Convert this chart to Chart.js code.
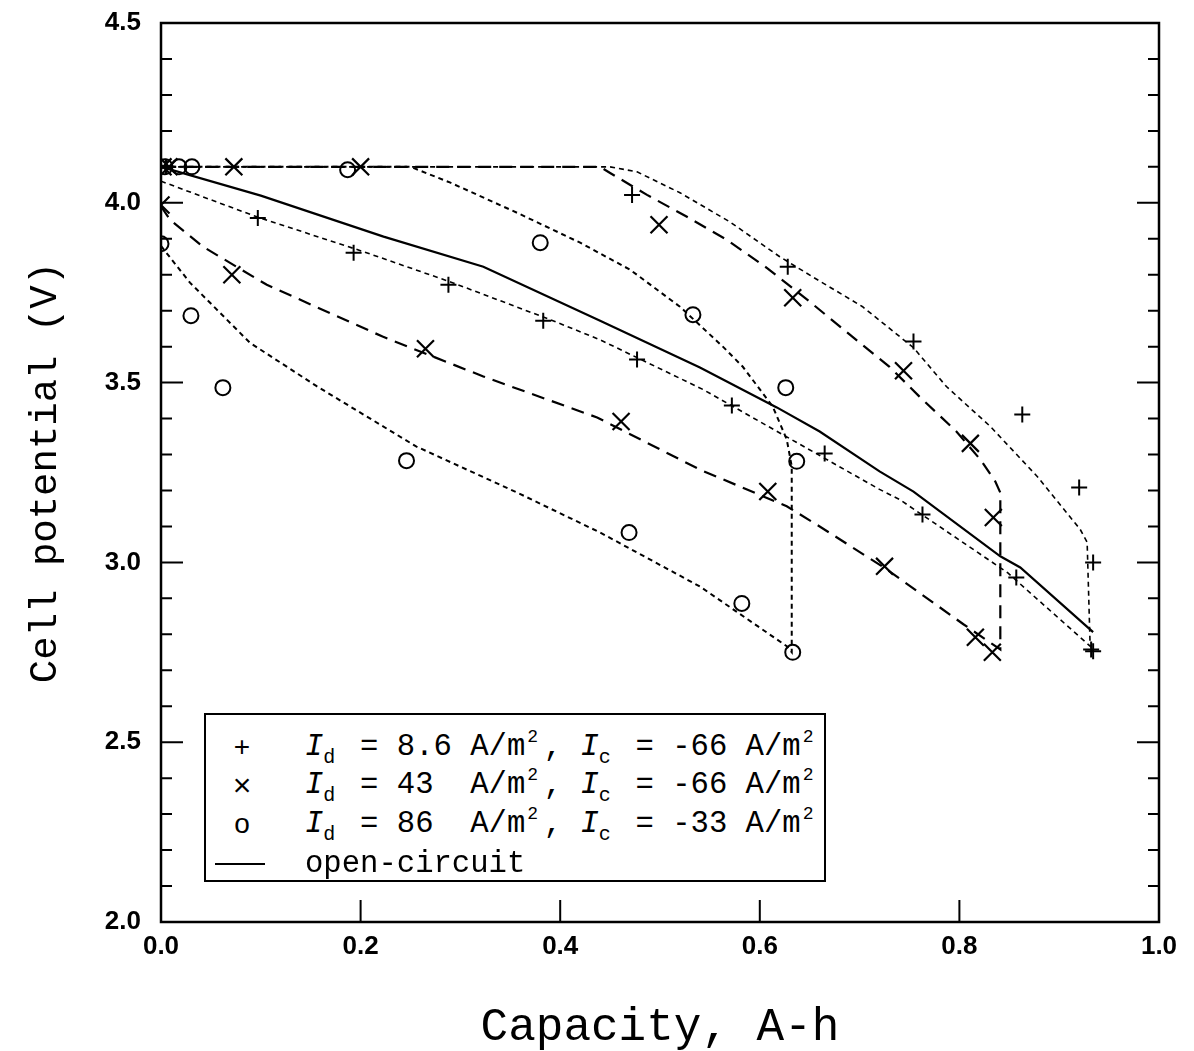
<!DOCTYPE html>
<html>
<head>
<meta charset="utf-8">
<title>Cell potential vs capacity</title>
<script src="https://cdn.jsdelivr.net/npm/chart.js@4.4.1/dist/chart.umd.min.js"></script>
<style>
  html, body { margin: 0; padding: 0; background: #fff; }
  #wrap { position: relative; width: 1194px; height: 1051px; }
  #legend {
    position: absolute; left: 204px; top: 713px; width: 618px; height: 165px;
    border: 2px solid #000; background: #fff; color: #000;
    font-family: "Liberation Mono", monospace; font-size: 30.6px;
  }
  .row { position: absolute; left: 0; width: 100%; height: 38px; line-height: 38px; white-space: pre; }
  .sym { position: absolute; left: 20px; width: 32px; text-align: center; font-family: "Liberation Sans", sans-serif; font-size: 28px; }
  .sym.x { font-size: 32px; }
  .line { position: absolute; left: 9px; width: 50px; top: 18px; border-top: 2px solid #000; }
  .txt { position: absolute; left: 99px; }
  .txt i { font-style: italic; }
  .txt sub, .txt sup { display: inline-block; width: 18.36px; line-height: 0; text-align: left; }
  .txt sub { font-size: 20px; vertical-align: -8px; }
  .txt sup { font-size: 18px; vertical-align: 13px; padding-left: 2px; box-sizing: border-box; }
</style>
</head>
<body>
<div id="wrap">
  <canvas id="chart" width="1194" height="1051"></canvas>
  <div id="legend">
    <div class="row" style="top:13px"><span class="sym">+</span><span class="txt"><i>I</i><sub>d</sub> = 8.6 A/m<sup>2</sup>, <i>I</i><sub>c</sub> = -66 A/m<sup>2</sup></span></div>
    <div class="row" style="top:51px"><span class="sym x">×</span><span class="txt"><i>I</i><sub>d</sub> = 43  A/m<sup>2</sup>, <i>I</i><sub>c</sub> = -66 A/m<sup>2</sup></span></div>
    <div class="row" style="top:90px"><span class="sym">o</span><span class="txt"><i>I</i><sub>d</sub> = 86  A/m<sup>2</sup>, <i>I</i><sub>c</sub> = -33 A/m<sup>2</sup></span></div>
    <div class="row" style="top:130px"><span class="line"></span><span class="txt">open-circuit</span></div>
  </div>
</div>
<script>
// Axis ticks
const xTickValues = [0.0, 0.2, 0.4, 0.6, 0.8, 1.0];
const yTickValues = [2.0, 2.5, 3.0, 3.5, 4.0, 4.5];
const yMinorTicks = [2.1, 2.2, 2.3, 2.4, 2.6, 2.7, 2.8, 2.9, 3.1, 3.2, 3.3, 3.4,
                     3.6, 3.7, 3.8, 3.9, 4.1, 4.2, 4.3, 4.4];

// Markers: Id = 8.6 A/m2 (+)
const plusX = [0, 0.005, 0.097, 0.193, 0.288, 0.383, 0.477, 0.572, 0.665, 0.763, 0.857, 0.934, 0.932,
               0.934, 0.920, 0.863, 0.754, 0.628, 0.472];
const plusY = [4.1, 4.1, 3.958, 3.861, 3.772, 3.672, 3.564, 3.436, 3.303, 3.133, 2.958, 2.753, 2.758,
               3.0, 3.208, 3.411, 3.614, 3.822, 4.022];

// Markers: Id = 43 A/m2 (x)
const crossX = [0, 0.071, 0.265, 0.461, 0.608, 0.725, 0.816, 0.833,
                0.834, 0.811, 0.744, 0.633, 0.499, 0.2, 0.073, 0.008, 0.002];
const crossY = [3.994, 3.8, 3.594, 3.392, 3.197, 2.989, 2.792, 2.75,
                3.125, 3.331, 3.533, 3.736, 3.939, 4.1, 4.1, 4.1, 4.1];

// Markers: Id = 86 A/m2 (o)
const circleX = [0, 0.030, 0.062, 0.246, 0.469, 0.582, 0.633,
                 0.637, 0.626, 0.533, 0.380, 0.187, 0.031, 0.018, 0.004];
const circleY = [3.886, 3.686, 3.486, 3.283, 3.083, 2.886, 2.75,
                 3.281, 3.486, 3.689, 3.889, 4.092, 4.1, 4.1, 4.1];

// Model curves (discharge then charge)
const curve8X = [0, 0.096, 0.203, 0.29, 0.39, 0.44, 0.543, 0.72, 0.74, 0.848, 0.931,
                 0.928, 0.921, 0.878, 0.831, 0.787, 0.754, 0.703, 0.653, 0.62, 0.57, 0.52, 0.477, 0.45, 0];
const curve8Y = [4.06, 3.961, 3.864, 3.78, 3.675, 3.619, 3.481, 3.203, 3.175, 2.972, 2.767,
                 3.056, 3.092, 3.239, 3.378, 3.489, 3.597, 3.711, 3.794, 3.85, 3.947, 4.028, 4.086, 4.1, 4.1];

const curve43X = [0, 0.009, 0.042, 0.106, 0.222, 0.323, 0.437, 0.54, 0.627, 0.66, 0.727, 0.804, 0.841,
                  0.841, 0.836, 0.821, 0.797, 0.76, 0.73, 0.70, 0.65, 0.607, 0.567, 0.527, 0.487, 0.45, 0.44, 0];
const curve43Y = [3.99, 3.953, 3.878, 3.772, 3.628, 3.517, 3.403, 3.258, 3.156, 3.1, 2.981, 2.828, 2.758,
                  3.194, 3.225, 3.286, 3.364, 3.461, 3.544, 3.611, 3.725, 3.819, 3.897, 3.961, 4.022, 4.083, 4.1, 4.1];

const curve86X = [0, 0.029, 0.089, 0.156, 0.256, 0.357, 0.44, 0.54, 0.627, 0.632,
                  0.632, 0.627, 0.613, 0.583, 0.563, 0.52, 0.47, 0.42, 0.357, 0.29, 0.25, 0];
const curve86Y = [3.88, 3.778, 3.611, 3.49, 3.322, 3.194, 3.083, 2.933, 2.767, 2.75,
                  3.267, 3.342, 3.433, 3.544, 3.6, 3.711, 3.814, 3.889, 3.972, 4.056, 4.1, 4.1];

const openX = [0, 0.10, 0.223, 0.323, 0.44, 0.54, 0.617, 0.66, 0.72, 0.754, 0.841, 0.861, 0.934];
const openY = [4.1, 4.02, 3.906, 3.822, 3.672, 3.542, 3.431, 3.364, 3.253, 3.197, 3.017, 2.986, 2.806];

function pts(xs, ys) {
    return xs.map((x, i) => ({ x: x, y: ys[i] }));
}

function lineSet(xs, ys, dash, width) {
    return {
        data: pts(xs, ys),
        showLine: true,
        borderColor: '#000',
        borderWidth: width,
        borderDash: dash,
        pointRadius: 0,
        tension: 0,
        fill: false
    };
}

function markerSet(xs, ys, style, radius, width) {
    return {
        data: pts(xs, ys),
        showLine: false,
        pointStyle: style,
        pointRadius: radius,
        pointBorderWidth: width,
        pointBorderColor: '#000',
        pointBackgroundColor: 'rgba(0,0,0,0)'
    };
}

// Frame box and inward tick marks
const frameTicks = {
    id: 'frameTicks',
    afterDatasetsDraw(chart) {
        const { ctx, chartArea: a, scales } = chart;
        const x = scales.x, y = scales.y;
        ctx.save();
        ctx.strokeStyle = '#000';
        ctx.lineWidth = 2.5;
        ctx.strokeRect(a.left, a.top, a.right - a.left, a.bottom - a.top);
        ctx.lineWidth = 2;
        ctx.beginPath();
        yTickValues.forEach(v => {
            const py = y.getPixelForValue(v);
            ctx.moveTo(a.left, py); ctx.lineTo(a.left + 22, py);
            ctx.moveTo(a.right, py); ctx.lineTo(a.right - 22, py);
        });
        yMinorTicks.forEach(v => {
            const py = y.getPixelForValue(v);
            ctx.moveTo(a.left, py); ctx.lineTo(a.left + 11, py);
            ctx.moveTo(a.right, py); ctx.lineTo(a.right - 11, py);
        });
        xTickValues.forEach(v => {
            const px = x.getPixelForValue(v);
            ctx.moveTo(px, a.bottom); ctx.lineTo(px, a.bottom - 22);
        });
        ctx.stroke();
        ctx.restore();
    }
};

new Chart(document.getElementById('chart'), {
    type: 'scatter',
    data: {
        datasets: [
            lineSet(curve8X, curve8Y, [5, 4], 1.6),
            lineSet(curve43X, curve43Y, [13, 8], 2.2),
            lineSet(curve86X, curve86Y, [5, 4], 2),
            lineSet(openX, openY, [], 2.2),
            markerSet(plusX, plusY, 'cross', 8, 2),
            markerSet(crossX, crossY, 'crossRot', 12, 2.2),
            markerSet(circleX, circleY, 'circle', 7.5, 2)
        ]
    },
    options: {
        responsive: false,
        animation: false,
        devicePixelRatio: 1,
        layout: { padding: { left: 0, right: 35, top: 23, bottom: 0 } },
        plugins: {
            legend: { display: false },
            tooltip: { enabled: false }
        },
        scales: {
            x: {
                type: 'linear',
                min: 0, max: 1,
                afterBuildTicks: s => { s.ticks = xTickValues.map(v => ({ value: v })); },
                afterFit: s => { s.height = 129; },
                grid: { display: false, drawTicks: false },
                border: { display: false },
                ticks: {
                    color: '#000',
                    padding: 9,
                    maxRotation: 0,
                    autoSkip: false,
                    font: { family: 'Liberation Sans', size: 26, weight: 'bold' },
                    callback: v => v.toFixed(1)
                },
                title: {
                    display: true,
                    text: 'Capacity, A-h',
                    color: '#000',
                    font: { family: 'Liberation Mono', size: 46, lineHeight: 1 },
                    padding: { top: 0, bottom: 0 }
                }
            },
            y: {
                type: 'linear',
                min: 2, max: 4.5,
                afterBuildTicks: s => { s.ticks = yTickValues.map(v => ({ value: v })); },
                afterFit: s => {
                    s.width = 161;
                    // label padding would otherwise push the plot top down
                    s.paddingTop = 0;
                    s.paddingBottom = 0;
                },
                grid: { display: false, drawTicks: false },
                border: { display: false },
                ticks: {
                    color: '#000',
                    padding: 20,
                    autoSkip: false,
                    font: { family: 'Liberation Sans', size: 26, weight: 'bold' },
                    callback: v => v.toFixed(1)
                },
                title: {
                    display: true,
                    text: 'Cell potential (V)',
                    color: '#000',
                    font: { family: 'Liberation Mono', size: 39, lineHeight: 1 },
                    padding: { top: 26, bottom: 0 }
                }
            }
        }
    },
    plugins: [frameTicks]
});
</script>
</body>
</html>
